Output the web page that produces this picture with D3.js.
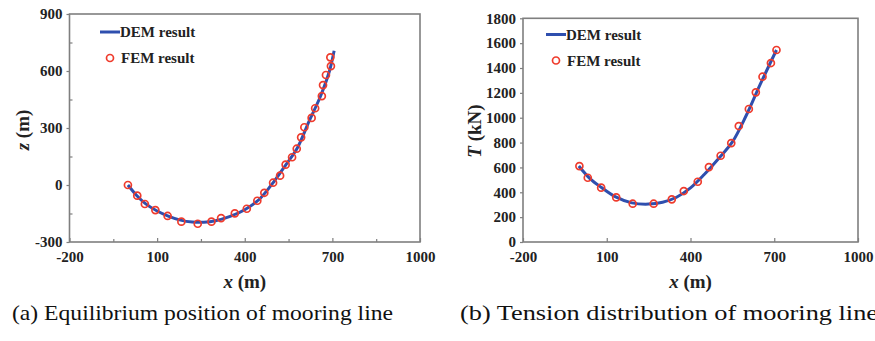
<!DOCTYPE html>
<html><head><meta charset="utf-8">
<script src="https://cdn.jsdelivr.net/npm/d3@7"></script>
<style>
html,body{margin:0;padding:0;background:#fff;}
svg{display:block;}
</style></head>
<body>
<svg id="chart" width="875" height="341"></svg>
<script>
// ---- Data ----
// (a) Equilibrium position: x (m) vs z (m)
const demXa = [0, 30, 60, 100, 140, 180, 220, 260, 300, 350, 400, 450, 500, 540, 580, 620, 660, 690, 706];
const demZa = [0, -55, -98, -137, -165, -185, -195, -196, -188, -165, -130, -75, 18, 105, 195, 335, 470, 600, 707];
const femXa = [0, 32, 58, 94, 136, 183, 239, 286, 319, 366, 407, 443, 467, 497, 521, 540, 562, 578, 593, 604, 629, 641, 664, 668, 678, 695, 693];
const femZa = [0, -56, -100, -132, -163, -193, -204, -193, -174, -149, -125, -83, -41, 12, 49, 107, 146, 191, 251, 304, 353, 404, 468, 526, 579, 626, 672];
// (b) Tension distribution: x (m) vs T (kN)
const demXb = [0, 40, 80, 130, 190, 250, 300, 350, 400, 450, 500, 550, 600, 650, 708];
const demTb = [612, 510, 440, 365, 315, 305, 320, 360, 435, 545, 670, 805, 1020, 1270, 1545];
const femXb = [2, 32, 80, 134, 193, 268, 333, 376, 426, 466, 508, 546, 573, 609, 634, 658, 688, 708];
const femTb = [611, 517, 437, 359, 308, 308, 343, 410, 485, 603, 694, 796, 933, 1070, 1204, 1330, 1440, 1545];
// Axis ticks
const xTicks = [-200, 100, 400, 700, 1000];
const xMinorA = [-50, 250, 550, 850];
const zTicks = [-300, 0, 300, 600, 900];
const zMinor = [-150, 150, 450, 750];
const tTicks = [0, 200, 400, 600, 800, 1000, 1200, 1400, 1600, 1800];
const seriesNames = ["DEM result", "FEM result"];
const captions = ["(a) Equilibrium position of mooring line", "(b) Tension distribution of mooring line"];

const BLUE = "#2f4fae", RED = "#ef3b2c", FRAME = "#7f7f7f", TXT = "#222";
const FONT = '"Liberation Serif", "Times New Roman", serif';
const svg = d3.select("#chart").style("font-family", FONT);

function styleText(sel, size, bold) {
  return sel.style("font-family", FONT).style("font-size", size + "px")
    .style("font-weight", bold ? "bold" : "normal").attr("fill", TXT);
}

function panel(cfg) {
  const g = svg.append("g");
  const x = d3.scaleLinear().domain([-200, 1000]).range([cfg.l, cfg.r]);
  const y = d3.scaleLinear().domain(cfg.ydom).range([cfg.b, cfg.t]);

  // x axis (ticks inward)
  const xa = g.append("g").attr("transform", `translate(0,${cfg.b})`)
    .call(d3.axisBottom(x).tickValues(xTicks).tickSize(-4).tickPadding(9).tickFormat(d => String(d)));
  xa.select(".domain").remove();
  xa.selectAll("line").attr("stroke", FRAME).attr("stroke-width", 1.2);
  styleText(xa.selectAll("text"), 15, true);
  if (cfg.xMinor) {
    const xm = g.append("g").attr("transform", `translate(0,${cfg.b})`)
      .call(d3.axisBottom(x).tickValues(cfg.xMinor).tickSize(-3).tickFormat(""));
    xm.select(".domain").remove();
    xm.selectAll("line").attr("stroke", FRAME).attr("stroke-width", 1.2);
  }

  // y axis (ticks outward)
  const ya = g.append("g").attr("transform", `translate(${cfg.l},0)`)
    .call(d3.axisLeft(y).tickValues(cfg.yTicks).tickSize(3).tickPadding(4).tickFormat(d => String(d)));
  ya.select(".domain").remove();
  ya.selectAll("line").attr("stroke", FRAME).attr("stroke-width", 1.2);
  styleText(ya.selectAll("text"), 15, true);
  if (cfg.yMinor) {
    const ym = g.append("g").attr("transform", `translate(${cfg.l},0)`)
      .call(d3.axisLeft(y).tickValues(cfg.yMinor).tickSize(-3).tickFormat(""));
    ym.select(".domain").remove();
    ym.selectAll("line").attr("stroke", FRAME).attr("stroke-width", 1.2);
  }

  // frame
  g.append("rect").attr("x", cfg.l).attr("y", cfg.t)
    .attr("width", cfg.r - cfg.l).attr("height", cfg.b - cfg.t)
    .attr("fill", "none").attr("stroke", FRAME).attr("stroke-width", 1.6);

  // axis titles
  const xt = styleText(g.append("text"), 19, true).attr("x", (cfg.l + cfg.r) / 2).attr("y", 288)
    .attr("text-anchor", "middle");
  xt.append("tspan").style("font-style", "italic").text("x");
  xt.append("tspan").text(" (m)");
  const yt = styleText(g.append("text"), 19, true).attr("transform", `translate(${cfg.ytx},${cfg.yty}) rotate(-90)`)
    .attr("text-anchor", "middle");
  yt.append("tspan").style("font-style", "italic").text(cfg.yvar);
  yt.append("tspan").text(cfg.yunit);

  // DEM line
  const line = d3.line().x(d => x(d[0])).y(d => y(d[1])).curve(d3.curveCatmullRom);
  g.append("path").datum(cfg.demX.map((v, i) => [v, cfg.demY[i]]))
    .attr("d", line).attr("fill", "none").attr("stroke", BLUE).attr("stroke-width", 3);

  // FEM circles
  g.selectAll("circle.fem").data(cfg.femX.map((v, i) => [v, cfg.femY[i]])).enter()
    .append("circle").attr("class", "fem")
    .attr("cx", d => x(d[0])).attr("cy", d => y(d[1])).attr("r", 3.5)
    .attr("fill", "none").attr("stroke", RED).attr("stroke-width", 1.7);

  // legend
  const lg = g.append("g");
  lg.append("line").attr("x1", cfg.lgx).attr("x2", cfg.lgx + 20)
    .attr("y1", cfg.lgy).attr("y2", cfg.lgy).attr("stroke", BLUE).attr("stroke-width", 3);
  styleText(lg.append("text"), 15, true).attr("x", cfg.lgx + 20).attr("y", cfg.lgy + 5).text(seriesNames[0]);
  lg.append("circle").attr("cx", cfg.lgx + 10).attr("cy", cfg.lgy + 26).attr("r", 3.5)
    .attr("fill", "none").attr("stroke", RED).attr("stroke-width", 1.7);
  styleText(lg.append("text"), 15, true).attr("x", cfg.lgx + 21).attr("y", cfg.lgy + 31).text(seriesNames[1]);

  // caption
  styleText(g.append("text"), 22, false).attr("x", cfg.capx).attr("y", 320)
    .attr("fill", "#111")
    .attr("textLength", cfg.capw).attr("lengthAdjust", "spacingAndGlyphs")
    .text(cfg.caption);
}

panel({l: 69.5, r: 420, t: 14, b: 242, ydom: [-300, 900], yTicks: zTicks, yMinor: zMinor, xMinor: xMinorA,
  demX: demXa, demY: demZa, femX: femXa, femY: femZa, yvar: "z", yunit: " (m)", ytx: 29, yty: 130,
  lgx: 100, lgy: 32, caption: captions[0], capx: 12, capw: 381});
panel({l: 523, r: 858, t: 18.3, b: 242, ydom: [0, 1800], yTicks: tTicks, yMinor: null, xMinor: null,
  demX: demXb, demY: demTb, femX: femXb, femY: femTb, yvar: "T", yunit: " (kN)", ytx: 481, yty: 131,
  lgx: 546, lgy: 34.5, caption: captions[1], capx: 460, capw: 418});
</script>
</body></html>
